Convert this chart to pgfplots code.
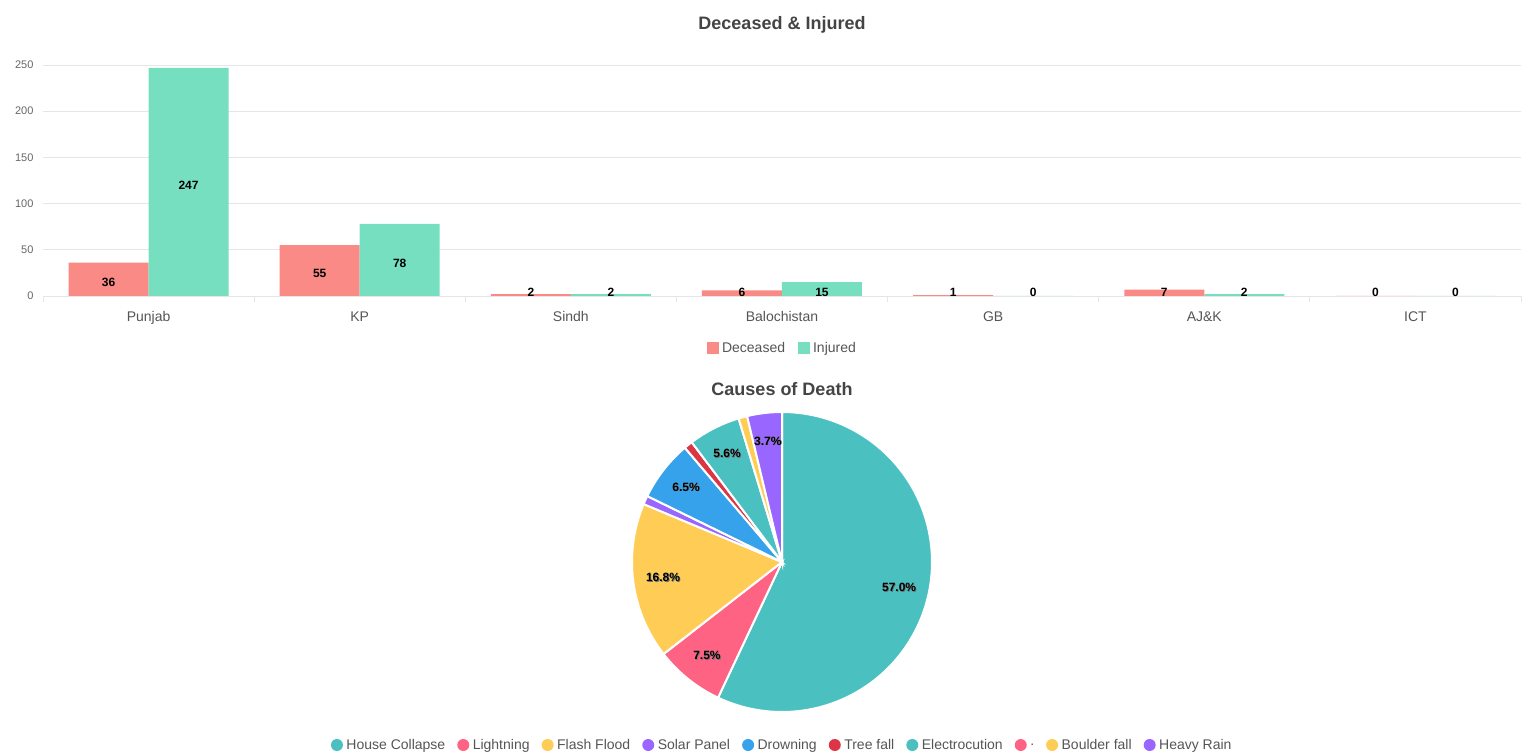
\documentclass[border=0pt]{standalone}
\usepackage{fontspec}
\setmainfont{Liberation Sans}
\usepackage{pgfplots}
\usepackage{pgfplotstable}
\pgfplotsset{compat=1.18}
\usepgfplotslibrary{polar}
\definecolor{dec}{RGB}{250,138,133}
\definecolor{inj}{RGB}{118,223,192}
\definecolor{cteal}{RGB}{75,192,192}
\definecolor{cpink}{RGB}{255,99,132}
\definecolor{cyellow}{RGB}{255,205,86}
\definecolor{cpurple}{RGB}{153,102,255}
\definecolor{cblue}{RGB}{54,162,235}
\definecolor{cred}{RGB}{220,53,69}
\definecolor{ttl}{HTML}{444444}
\definecolor{lbl}{HTML}{555555}
\definecolor{tck}{HTML}{666666}
\definecolor{grd}{HTML}{E6E6E6}

\pgfplotstableread{
x dec inj
0 36 247
1 55 78
2 2 2
3 6 15
4 1 0
5 7 2
6 0 0
}\bardata

% Causes of death (counts of 107): House Collapse 61, Lightning 8, Flash Flood 18,
% Solar Panel 1, Drowning 7, Tree fall 1, Electrocution 6, "." 0, Boulder fall 1, Heavy Rain 4
% slice boundaries (degrees, clockwise from 90):
% 90, -115.234, -142.150, -202.711, -206.075, -229.626, -232.991, -253.178, -253.178, -256.542, -270

\newcommand\shadowlabel[1]{\rlap{\kern0.8pt\raisebox{-0.8pt}{\color{black!55}#1}}#1}

\begin{document}
\begin{tikzpicture}
\path[use as bounding box] (0,0) rectangle (1540pt,753pt);
\node[font=\bfseries\fontsize{18}{20}\selectfont, text=ttl] at (782pt,728pt) {Deceased \& Injured};
\begin{axis}[
  at={(43pt,457pt)}, anchor=south west,
  scale only axis, width=1478pt, height=231pt,
  xmin=-0.5, xmax=6.5, ymin=0, ymax=250,
  ybar=0pt, bar width=80pt,
  xtick={0,...,6},
  xticklabels={Punjab,KP,Sindh,Balochistan,GB,AJ\&K,ICT},
  minor xtick={-0.5,0.5,...,6.5},
  ytick={0,50,...,250},
  axis x line*=bottom, axis y line*=left,
  x axis line style={draw=grd, line width=0.8pt, -},
  y axis line style={draw=none},
  tick align=outside,
  major tick length=0pt, minor tick length=6pt,
  minor x tick style={draw=grd, line width=0.8pt},
  major tick style={draw=none},
  ymajorgrids, grid style={draw=grd, line width=0.8pt},
  /pgf/number format/assume math mode=true,
  xticklabel style={font=\fontsize{14}{16}\selectfont, text=lbl, yshift=-12pt},
  yticklabel style={font=\fontsize{11}{13}\selectfont, text=tck, xshift=-6pt},
  nodes near coords,
  nodes near coords align={center},
  visualization depends on={rawy \as \rawy},
  every node near coord/.append style={font=\bfseries\fontsize{12}{14}\selectfont, text=black, anchor=center,
     yshift={(max(0.462*\rawy-3,3.5)-0.924*\rawy)*1pt}},
  legend columns=-1,
  legend style={at={(0.5,-0.225)}, anchor=center, draw=none, fill=none,
     font=\fontsize{14}{16}\selectfont, text=lbl,
     nodes={inner sep=1.5pt},
     /tikz/every odd column/.append style={column sep=2pt},
     /tikz/every even column/.append style={column sep=11pt}},
  legend image code/.code={\fill[#1, draw=none] (0pt,-6pt) rectangle (12pt,6pt);},
]
\addplot[fill=dec, draw=none] table[x=x, y=dec] {\bardata};
\addlegendentry{Deceased}
\addplot[fill=inj, draw=none] table[x=x, y=inj] {\bardata};
\addlegendentry{Injured}
\end{axis}

\node[font=\bfseries\fontsize{18}{20}\selectfont, text=ttl] at (782pt,364pt) {Causes of Death};
\begin{polaraxis}[
  at={(782pt,191pt)}, anchor=origin,
  scale only axis, width=300pt, height=300pt,
  hide axis, clip=false,
  xmin=0, xmax=360, ymin=0, ymax=1,
  legend columns=-1,
  legend style={at={(0.5,-0.11)}, anchor=center, draw=none, fill=none,
     font=\fontsize{14}{16}\selectfont, text=lbl,
     nodes={inner sep=1.5pt},
     /tikz/every odd column/.append style={column sep=2pt},
     /tikz/every even column/.append style={column sep=10.5pt}},
  legend image code/.code={\fill[#1, draw=none] (6pt,0pt) circle[radius=6pt];},
]
\addplot[fill=cteal, draw=white, line width=2pt, domain=-115.234:90, samples=120, forget plot] {1} -- (axis cs:0,0) -- cycle;
\addplot[fill=cpink, draw=white, line width=2pt, domain=-142.150:-115.234, samples=30, forget plot] {1} -- (axis cs:0,0) -- cycle;
\addplot[fill=cyellow, draw=white, line width=2pt, domain=-202.711:-142.150, samples=50, forget plot] {1} -- (axis cs:0,0) -- cycle;
\addplot[fill=cpurple, draw=white, line width=2pt, domain=-206.075:-202.711, samples=5, forget plot] {1} -- (axis cs:0,0) -- cycle;
\addplot[fill=cblue, draw=white, line width=2pt, domain=-229.626:-206.075, samples=25, forget plot] {1} -- (axis cs:0,0) -- cycle;
\addplot[fill=cred, draw=white, line width=2pt, domain=-232.991:-229.626, samples=5, forget plot] {1} -- (axis cs:0,0) -- cycle;
\addplot[fill=cteal, draw=white, line width=2pt, domain=-253.178:-232.991, samples=20, forget plot] {1} -- (axis cs:0,0) -- cycle;
\addplot[fill=cyellow, draw=white, line width=2pt, domain=-256.542:-253.178, samples=5, forget plot] {1} -- (axis cs:0,0) -- cycle;
\addplot[fill=cpurple, draw=white, line width=2pt, domain=-270:-256.542, samples=15, forget plot] {1} -- (axis cs:0,0) -- cycle;

\addplot[draw=none, mark=none, forget plot, nodes near coords={\shadowlabel{\pgfplotspointmeta}},
  point meta=explicit symbolic,
  every node near coord/.append style={font=\bfseries\fontsize{12}{14}\selectfont, text=black, anchor=center}]
  table[x=a, y=r, meta=lab] {
a r lab
-12.617 0.80 57.0\%
-128.692 0.80 7.5\%
-172.430 0.80 16.8\%
-217.850 0.81 6.5\%
-243.085 0.81 5.6\%
-263.271 0.81 3.7\%
};

\addlegendimage{fill=cteal}\addlegendentry{House Collapse}
\addlegendimage{fill=cpink}\addlegendentry{Lightning}
\addlegendimage{fill=cyellow}\addlegendentry{Flash Flood}
\addlegendimage{fill=cpurple}\addlegendentry{Solar Panel}
\addlegendimage{fill=cblue}\addlegendentry{Drowning}
\addlegendimage{fill=cred}\addlegendentry{Tree fall}
\addlegendimage{fill=cteal}\addlegendentry{Electrocution}
\addlegendimage{fill=cpink}\addlegendentry{.}
\addlegendimage{fill=cyellow}\addlegendentry{Boulder fall}
\addlegendimage{fill=cpurple}\addlegendentry{Heavy Rain}
\end{polaraxis}
\end{tikzpicture}
\end{document}
